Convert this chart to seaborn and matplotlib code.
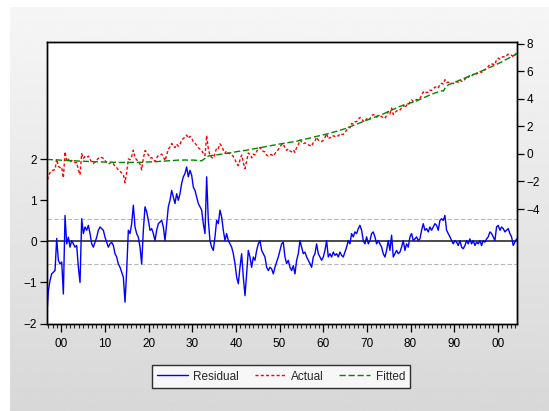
import numpy as np
import pandas as pd
import seaborn as sns
import matplotlib.pyplot as plt
from matplotlib.lines import Line2D
from matplotlib.ticker import MultipleLocator, FuncFormatter

# residuals (left scale), regular sampling 1896.6 .. 2004.3
residual = [
    -1.85, -1.20, -0.95, -0.79, -0.75, -0.71, 0.07, -0.46, -0.55, -0.50,
    -1.28, 0.63, -0.06, 0.10, -0.14, 0.02, -0.06, -0.14, -0.10, -0.63,
    -1.00, 0.55, 0.19, 0.35, 0.27, 0.39, 0.19, -0.06, -0.14, -0.02,
    0.10, 0.27, 0.35, 0.31, 0.27, 0.10, -0.02, -0.14, -0.06, -0.02,
    -0.10, -0.30, -0.38, -0.55, -0.63, -0.75, -0.87, -1.48, -0.71, 0.27,
    0.19, 0.43, 0.88, 0.35, 0.19, 0.10, -0.14, -0.55, 0.27, 0.84,
    0.72, 0.51, 0.27, 0.31, 0.19, 0.02, 0.27, 0.43, 0.47, 0.51,
    0.35,
    0.02, 0.43, 0.84, 1.00, 1.24, 1.08, 0.92, 1.16, 1.00, 1.16,
    1.41, 1.57, 1.65, 1.81, 1.57, 1.73, 1.61, 1.32, 1.24, 1.08,
    0.92, 0.84, 0.76, 0.43, 0.19, 1.57, 0.51, 0.02, -0.14, -0.22,
    0.11, 0.51, 0.43, 0.76, 0.59, 0.27, 0.02, 0.19, 0.02, -0.06,
    -0.14, -0.30, -0.54, -0.87, -1.03, -0.63, -0.30, -0.87, -1.32, -0.79,
    -0.22, -0.38, -0.63, -0.38, -0.46, -0.22, -0.06, 0.02, -0.22, -0.30,
    -0.38, -0.63, -0.71, -0.63, -0.67, -0.79, -0.63, -0.50, -0.38, -0.22,
    -0.06, -0.02,
    -0.38, -0.54, -0.46, -0.63, -0.71, -0.59, -0.79, -0.46, -0.30, 0.02,
    -0.14, -0.30, -0.26, -0.38, -0.46, -0.54, -0.63, -0.38, -0.30, -0.06,
    -0.30, -0.38, -0.46, -0.38, -0.22, 0.02, -0.38, -0.30, -0.38, -0.26,
    -0.34, -0.30, -0.38, -0.26, -0.34, -0.38, -0.26, -0.14, 0.02, -0.06,
    0.19, 0.11, 0.23, 0.19, 0.31, 0.39, 0.27, 0.02, -0.06, 0.11,
    -0.06, 0.02, 0.19, 0.23, 0.11, -0.06, 0.02, -0.06, -0.14, -0.30,
    -0.38, -0.22, 0.02, -0.22, 0.15, -0.38, -0.30, -0.22, -0.30, -0.26,
    -0.14, 0.02,
    -0.22, -0.06, -0.14, 0.11, 0.19, 0.02, 0.06, 0.11, 0.02, 0.06,
    0.27, 0.43, 0.27, 0.31, 0.23, 0.35, 0.27, 0.35, 0.43, 0.39,
    0.27, 0.51, 0.55, 0.51, 0.63, 0.27, 0.19, 0.11, 0.02, -0.06,
    0.02, -0.02, -0.10, 0.02, -0.14, -0.18, -0.10, 0.02, -0.06, 0.06,
    -0.06, 0.02, -0.10, -0.02, -0.06, 0.02, -0.10, 0.02, -0.02, 0.06,
    0.11, 0.23, 0.19, 0.11, 0.02, 0.35, 0.39, 0.27, 0.35, 0.31,
    0.23, 0.27, 0.31, 0.19, 0.11, -0.10, -0.02, 0.06,
]

# fitted values (right scale)
fitted = [
    -0.40, -0.41, -0.41, -0.42, -0.43, -0.43, -0.44, -0.44,
    -0.45, -0.46, -0.46, -0.47, -0.47, -0.48, -0.49, -0.49, -0.50, -0.50, -0.51, -0.52,
    -0.52, -0.53, -0.53, -0.54, -0.54, -0.55, -0.55, -0.56, -0.56, -0.57, -0.57, -0.58,
    -0.58, -0.58, -0.59, -0.59, -0.59, -0.60, -0.60, -0.60, -0.61, -0.61, -0.61, -0.62,
    -0.62, -0.63, -0.62, -0.61, -0.62, -0.63, -0.62, -0.62, -0.61, -0.62, -0.62, -0.62,
    -0.61, -0.61, -0.60, -0.60, -0.59, -0.59, -0.58, -0.58, -0.57, -0.57, -0.56, -0.55,
    -0.54, -0.53, -0.53, -0.52, -0.51, -0.50, -0.49, -0.48, -0.48, -0.47, -0.46, -0.45,
    -0.45, -0.44, -0.45, -0.44, -0.45, -0.45, -0.46, -0.45, -0.45,
    -0.46, -0.47, -0.48, -0.49, -0.50,
    -0.41, -0.32, -0.23, -0.15,
    -0.13, -0.12, -0.10, -0.08, -0.07, -0.05,
    -0.03, -0.02, 0.00, 0.02, 0.03, 0.05,
    0.07, 0.09, 0.11, 0.14, 0.16, 0.18, 0.20, 0.22, 0.24, 0.25, 0.27,
    0.29, 0.31, 0.34, 0.36, 0.38, 0.40, 0.43, 0.45, 0.47,
    0.49, 0.52, 0.54, 0.56, 0.58, 0.61, 0.63, 0.65, 0.67, 0.70,
    0.72, 0.74, 0.76, 0.78, 0.80, 0.82, 0.84, 0.86, 0.88, 0.90, 0.92,
    0.95, 0.98, 1.01, 1.03, 1.06, 1.09, 1.12, 1.15, 1.18,
    1.21, 1.24, 1.27, 1.30, 1.32, 1.35, 1.38, 1.41, 1.44, 1.47,
    1.50, 1.54, 1.57, 1.61, 1.64, 1.68, 1.72, 1.75, 1.79, 1.82, 1.86,
    1.91, 1.96, 2.01, 2.06, 2.10, 2.15, 2.20, 2.25, 2.30,
    2.35, 2.39, 2.44, 2.48, 2.53, 2.58, 2.62, 2.67, 2.72, 2.76, 2.81, 2.85, 2.90,
    2.95, 3.01, 3.06, 3.12, 3.17, 3.23, 3.28, 3.34, 3.40,
    3.44, 3.48, 3.52, 3.56, 3.60, 3.64, 3.68, 3.72, 3.76, 3.80, 3.84,
    3.89, 3.95, 4.00, 4.06, 4.11, 4.16, 4.22, 4.27, 4.33,
    4.37, 4.41, 4.45, 4.50, 4.54, 4.57, 4.55,
    4.75, 4.90, 5.00,
    5.05, 5.10, 5.15, 5.20, 5.25, 5.30, 5.35, 5.40, 5.45, 5.50, 5.55,
    5.60, 5.65, 5.70, 5.75, 5.80, 5.85, 5.90, 5.95, 6.00,
    6.05, 6.11, 6.16, 6.22, 6.27, 6.33, 6.38, 6.44, 6.49, 6.55, 6.60,
    6.66, 6.73, 6.79, 6.86, 6.92, 6.99, 7.05, 7.12, 7.18, 7.25,
]

start_year, end_year = 1896.63, 2004.3
resid_band = 0.55

n = min(len(residual), len(fitted))
df = pd.DataFrame({
    'year': np.linspace(start_year, end_year, n),
    'Residual': residual[:n],
    'Fitted': fitted[:n],
})
df['Actual'] = df['Fitted'] + df['Residual']

sns.set_style('ticks')
plt.rcParams['font.family'] = ['Liberation Sans', 'DejaVu Sans']

fig = plt.figure(figsize=(5.49, 4.11), dpi=100)
fig.patch.set_facecolor('white')

# grey gradient panel behind the chart
bg = fig.add_axes([10 / 549, 0, 539 / 549, 404 / 411], zorder=-5)
grad = np.linspace(0.965, 0.845, 256).reshape(-1, 1)
bg.imshow(grad, aspect='auto', cmap='gray', vmin=0, vmax=1, extent=[0, 1, 0, 1])
bg.axis('off')

ax = fig.add_axes([46.7 / 549, 87 / 411, 470.3 / 549, 282 / 411])
ax.set_facecolor('white')
ax2 = ax.twinx()

ax.axhline(0, color='#4a4a4a', lw=1.4, zorder=1)
for v in (resid_band, -resid_band):
    ax.axhline(v, color='#b8b8b8', lw=0.8, ls=(0, (4, 2)), zorder=1)

sns.lineplot(data=df, x='year', y='Residual', ax=ax, color='#0000ff', lw=1.0, zorder=3)
sns.lineplot(data=df, x='year', y='Actual', ax=ax2, color='#ff0000', lw=1.0,
             linestyle=(0, (2.2, 1.6)))
sns.lineplot(data=df, x='year', y='Fitted', ax=ax2, color='#008800', lw=1.0,
             linestyle=(0, (4.5, 2)))

ax.set_xlim(start_year, end_year + 0.1)
ax.set_ylim(-2.01, 4.85)
ax2.set_ylim(-12.33, 8.11)
ax.set_yticks([-2, -1, 0, 1, 2])
ax2.set_yticks([-4, -2, 0, 2, 4, 6, 8])
ax.xaxis.set_major_locator(MultipleLocator(10))
ax.xaxis.set_minor_locator(MultipleLocator(1))
ax.xaxis.set_major_formatter(FuncFormatter(lambda v, p: f"{int(round(v)) % 100:02d}"))

for a in (ax, ax2):
    a.set_xlabel('')
    a.set_ylabel('')
    for s in a.spines.values():
        s.set_visible(True)
        s.set_color('black')
        s.set_linewidth(1.0)
    a.tick_params(which='major', direction='out', length=5, width=0.9,
                  labelsize=8.5, pad=2, colors='black')
    a.tick_params(which='minor', direction='out', length=3, width=0.8)
ax.tick_params(axis='y', left=True, right=False)
ax2.tick_params(axis='y', right=True, left=False)
ax.tick_params(axis='x', which='both', top=False, bottom=True)
ax.tick_params(axis='x', which='major', length=6, pad=4)

handles = [
    Line2D([], [], color='#0000ff', lw=1.0),
    Line2D([], [], color='#ff0000', lw=1.0, ls=(0, (2.2, 1.6))),
    Line2D([], [], color='#008800', lw=1.0, ls=(0, (4.5, 2))),
]
leg = fig.legend(handles, ['Residual', 'Actual', 'Fitted'], loc='center',
                 bbox_to_anchor=(281 / 549, 34.5 / 411), ncol=3, frameon=True,
                 fancybox=False, edgecolor='black', fontsize=8.5,
                 handlelength=2.6, handletextpad=0.5, columnspacing=1.3,
                 borderpad=0.45)
leg.get_frame().set_linewidth(1.0)
leg.get_frame().set_facecolor('white')

fig.savefig('out.png', dpi=100)
plt.close(fig)
